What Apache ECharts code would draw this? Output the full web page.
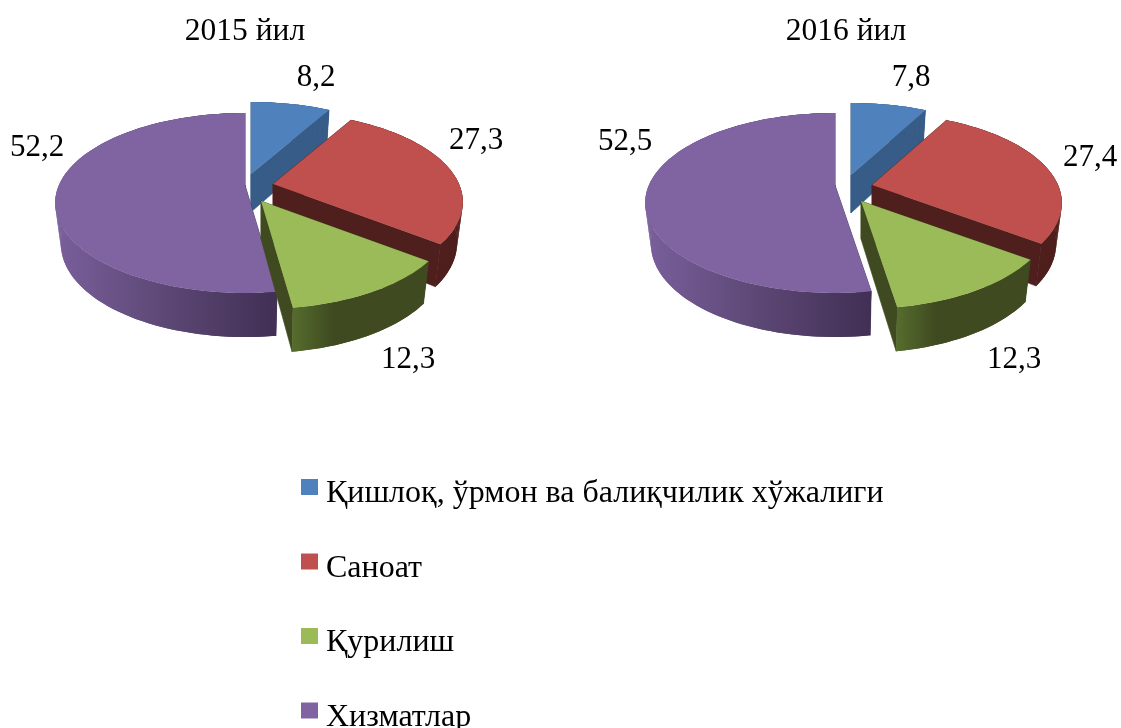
<!DOCTYPE html>
<html>
<head>
<meta charset="utf-8">
<title>2015-2016</title>
<style>
html, body { margin: 0; padding: 0; background: #fff; }
#main { width: 1121px; height: 728px; }
</style>
<script src="https://cdn.jsdelivr.net/npm/echarts@6/dist/echarts.min.js"></script>
</head>
<body>
<div id="main"></div>
<script>
var categories = ['Қишлоқ, ўрмон ва балиқчилик хўжалиги', 'Саноат', 'Қурилиш', 'Хизматлар'];
var pieTitles = ['2015 йил', '2016 йил'];
var values2015 = [8.2, 27.3, 12.3, 52.2];
var values2016 = [7.8, 27.4, 12.3, 52.5];
var pieValues = [values2015, values2016];

var FONT = '"Liberation Serif", "Times New Roman", serif';
var topColors = ['#4f81bd', '#c0504d', '#9bbb59', '#8064a2'];
var faceColors = ['#375c87', '#4e1f1c', '#3f4a20', '#42305a'];
// paint order, back to front
var depthOrder = [2, 3, 5, 4];

// pie geometry (perspective projection of a flat disc)
var R = 186, RY = 86.4, PERSP = 0.2, BOTTOM_SCALE = 0.97;
var pies = [
  {
    center: [255, 188],
    explode: [[-4, -14], [18, -4], [6, 13], [-10, -3]],
    labels: [[61, -110], [221, -47], [153, 172], [-218, -40]]
  },
  {
    center: [855, 188],
    explode: [[-4, -13], [17, -3], [6, 13], [-20, -3]],
    labels: [[56, -110], [235, -30], [159, 172], [-230, -46]]
  }
];

function project(deg) {
  var a = deg * Math.PI / 180, u = Math.sin(a), v = -Math.cos(a), k = 1 - PERSP * v;
  return { x: R * u / k, y: RY * v / k, h: 40 + 4 * v };
}

// gradient in page coordinates so every wall piece shares it
function grad(x0, x1, stops) {
  return new echarts.graphic.LinearGradient(x0, 0, x1, 0, stops.map(function (s) {
    return { offset: s[0], color: s[1] };
  }), true);
}

function wallFill(cat, points) {
  var xs = points.map(function (p) { return p[0]; });
  var x0 = Math.min.apply(null, xs), x1 = Math.max.apply(null, xs);
  if (cat === 3) return grad(x0, x1, [[0, '#7a5f9c'], [0.45, '#5f4a78'], [1, '#412f54']]);
  if (cat === 2) return grad(x0, x1, [[0, '#566d2e'], [0.3, '#3f4a20'], [1, '#3f4a20']]);
  return faceColors[cat];
}

function renderSlice(params, api) {
  var cat = params.seriesIndex, pieIdx = params.dataIndex;
  var vals = pieValues[pieIdx], pie = pies[pieIdx];
  var total = vals.reduce(function (a, b) { return a + b; }, 0);
  var before = vals.slice(0, cat).reduce(function (a, b) { return a + b; }, 0);
  var val = api.value(0);
  var a0 = before / total * 360, a1 = (before + val) / total * 360;
  var ax = pie.center[0] + pie.explode[cat][0], ay = pie.center[1] + pie.explode[cat][1];

  var top = [], bottom = [];
  var n = Math.ceil((a1 - a0) / 2);
  for (var i = 0; i <= n; i++) {
    var p = project(a0 + (a1 - a0) * i / n);
    top.push([ax + p.x, ay + p.y]);
    bottom.push([ax + p.x * BOTTOM_SCALE, ay + p.y + p.h]);
  }
  var apexH = 38;
  var wallPts = top.concat(bottom.slice().reverse());
  var fill = wallFill(cat, wallPts);
  var faceStyle = { fill: faceColors[cat], stroke: faceColors[cat], lineWidth: 0.6 };

  var children = [
    { type: 'polygon', shape: { points: [[ax, ay], top[0], bottom[0], [ax, ay + apexH]] }, style: faceStyle },
    { type: 'polygon', shape: { points: [[ax, ay], top[n], bottom[n], [ax, ay + apexH]] }, style: faceStyle },
    { type: 'polygon', shape: { points: wallPts }, style: { fill: fill } }
  ];
  // the arcs alone miss the slanted silhouette at the far left and right
  for (var j = 0; j < n; j++) {
    children.push({
      type: 'polygon',
      shape: { points: [top[j], top[j + 1], bottom[j + 1], bottom[j]] },
      style: { fill: fill }
    });
  }
  children.push({ type: 'polygon', shape: { points: [[ax, ay]].concat(top) }, style: { fill: topColors[cat] } });
  children.push({
    type: 'text',
    x: pie.center[0] + pie.labels[cat][0],
    y: pie.center[1] + pie.labels[cat][1],
    style: {
      text: String(val).replace('.', ','),
      fill: '#000',
      font: '31px ' + FONT,
      align: 'center',
      verticalAlign: 'middle'
    }
  });
  return { type: 'group', children: children };
}

var chart = echarts.init(document.getElementById('main'));
chart.setOption({
  animation: false,
  backgroundColor: '#fff',
  title: [
    { text: pieTitles[0], left: 240, top: 11, textAlign: 'center', textStyle: { fontFamily: FONT, fontSize: 31.5, fontWeight: 'normal', color: '#000' } },
    { text: pieTitles[1], left: 841, top: 11, textAlign: 'center', textStyle: { fontFamily: FONT, fontSize: 31.5, fontWeight: 'normal', color: '#000' } }
  ],
  legend: {
    orient: 'vertical',
    left: 301,
    top: 478,
    height: 400,
    padding: 0,
    itemWidth: 17,
    itemHeight: 16,
    itemGap: 42.5,
    icon: 'rect',
    selectedMode: false,
    data: categories,
    formatter: function (name) { return '{t|' + name + '}'; },
    textStyle: {
      rich: { t: { fontFamily: FONT, fontSize: 32, color: '#000', padding: [14, 0, 0, 3] } }
    }
  },
  series: categories.map(function (name, i) {
    return {
      type: 'custom',
      name: name,
      coordinateSystem: 'none',
      z: depthOrder[i],
      itemStyle: { color: topColors[i] },
      renderItem: renderSlice,
      data: [values2015[i], values2016[i]]
    };
  })
});
</script>
</body>
</html>
